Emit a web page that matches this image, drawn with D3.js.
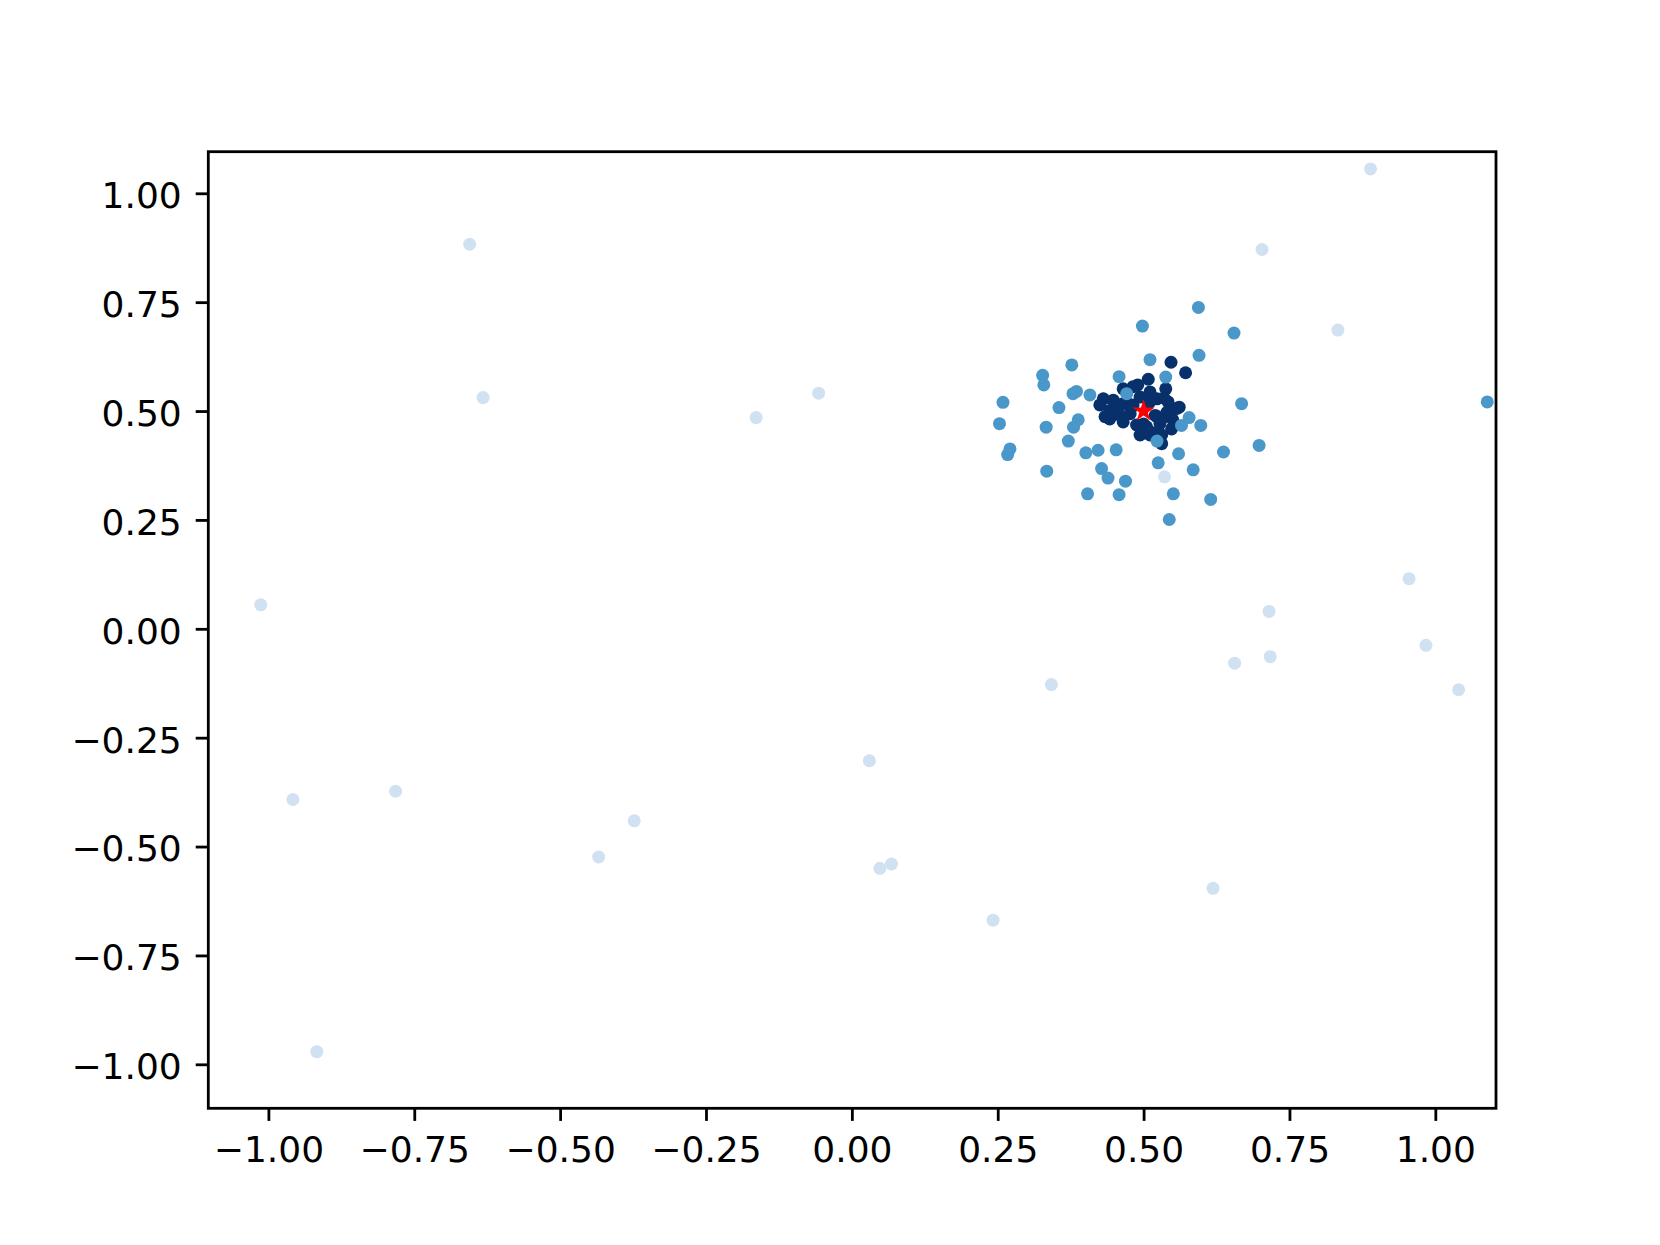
<!DOCTYPE html>
<html>
<head>
<meta charset="utf-8">
<script src="https://cdn.jsdelivr.net/npm/d3@7"></script>
<style>
  html, body { margin: 0; padding: 0; background: #fff; }
  svg { display: block; }
  .tick text { font-family: "DejaVu Sans", sans-serif; font-size: 36px; fill: #000; }
</style>
</head>
<body>
<svg id="chart" width="1660" height="1245"></svg>
<script>
// far-away points (lightest shade)
const farPoints = [
  [-0.655, 0.883], [-0.632, 0.531], [-1.013, 0.055], [-0.958, -0.392],
  [-0.782, -0.373], [-0.917, -0.971], [-0.434, -0.524], [-0.373, -0.441],
  [-0.164, 0.485], [-0.057, 0.541], [0.030, -0.303], [0.048, -0.550],
  [0.068, -0.540], [0.242, -0.669], [0.342, -0.128], [0.536, 0.349],
  [0.619, -0.596], [0.656, -0.079], [0.715, 0.040], [0.717, -0.064],
  [0.703, 0.871], [0.889, 1.056], [0.833, 0.686], [0.955, 0.115],
  [0.984, -0.038], [1.040, -0.140]
];

// dense core round the centre (darkest shade)
const corePoints = [
  [0.547, 0.612], [0.572, 0.588], [0.508, 0.573], [0.538, 0.551],
  [0.431, 0.528], [0.465, 0.551], [0.442, 0.501], [0.460, 0.490],
  [0.442, 0.482], [0.477, 0.494], [0.523, 0.528], [0.540, 0.497],
  [0.561, 0.509], [0.528, 0.471], [0.548, 0.459], [0.497, 0.452],
  [0.508, 0.455], [0.531, 0.425], [0.494, 0.532], [0.471, 0.520],
  [0.480, 0.510], [0.520, 0.490], [0.510, 0.520], [0.500, 0.470],
  [0.530, 0.480], [0.455, 0.510], [0.520, 0.450], [0.550, 0.480],
  [0.490, 0.560], [0.535, 0.530], [0.448, 0.525], [0.465, 0.517],
  [0.482, 0.514], [0.482, 0.556], [0.465, 0.475], [0.488, 0.468],
  [0.505, 0.464], [0.542, 0.521], [0.557, 0.506], [0.494, 0.445],
  [0.511, 0.445], [0.531, 0.445], [0.425, 0.514], [0.434, 0.487],
  [0.523, 0.487], [0.511, 0.544]
];

// ring of nearby points (middle shade)
const nearPoints = [
  [0.594, 0.738], [0.498, 0.695], [0.655, 0.679], [0.595, 0.628],
  [0.511, 0.618], [0.377, 0.606], [0.327, 0.582], [0.329, 0.560],
  [0.458, 0.579], [0.538, 0.578], [0.385, 0.545], [0.379, 0.540],
  [0.408, 0.537], [0.471, 0.540], [0.259, 0.520], [0.668, 0.517],
  [0.355, 0.508], [0.253, 0.471], [0.333, 0.463], [0.388, 0.480],
  [0.380, 0.463], [0.578, 0.485], [0.565, 0.467], [0.598, 0.467],
  [0.271, 0.413], [0.267, 0.400], [0.371, 0.431], [0.401, 0.404],
  [0.422, 0.410], [0.453, 0.411], [0.523, 0.431], [0.560, 0.402],
  [0.637, 0.406], [0.698, 0.421], [0.334, 0.362], [0.525, 0.381],
  [0.585, 0.365], [0.428, 0.368], [0.439, 0.346], [0.469, 0.339],
  [0.404, 0.310], [0.458, 0.308], [0.551, 0.310], [0.615, 0.297],
  [0.544, 0.251], [1.089, 0.521]
];

const centre = [0.5, 0.5];

const xTicks = [-1, -0.75, -0.5, -0.25, 0, 0.25, 0.5, 0.75, 1];
const yTicks = [-1, -0.75, -0.5, -0.25, 0, 0.25, 0.5, 0.75, 1];

const width = 1660;
const height = 1245;
const margin = { top: 151.7, right: 164, bottom: 136.7, left: 208.3 };

const svg = d3.select("#chart");

const x = d3.scaleLinear()
  .domain([-1.103, 1.104])
  .range([margin.left, width - margin.right]);
const y = d3.scaleLinear()
  .domain([-1.101, 1.0955])
  .range([height - margin.bottom, margin.top]);

const shade = d3.scaleOrdinal()
  .domain(["far", "near", "core"])
  .range(["#d0e1f2", "#4a98c9", "#08306b"]);

svg.append("defs")
  .append("clipPath")
  .attr("id", "plot-clip")
  .append("rect")
  .attr("x", margin.left)
  .attr("y", margin.top)
  .attr("width", width - margin.left - margin.right)
  .attr("height", height - margin.top - margin.bottom);

const plot = svg.append("g").attr("clip-path", "url(#plot-clip)");

const groups = [
  { key: "far", pts: farPoints },
  { key: "core", pts: corePoints },
  { key: "near", pts: nearPoints },
];

groups.forEach((g) => {
  plot.append("g")
    .selectAll("circle")
    .data(g.pts)
    .join("circle")
    .attr("cx", (d) => x(d[0]))
    .attr("cy", (d) => y(d[1]))
    .attr("r", 6.5)
    .attr("fill", shade(g.key));
});

plot.append("path")
  .attr("d", d3.symbol().type(d3.symbolStar).size(155)())
  .attr("transform", `translate(${x(centre[0])},${y(centre[1])})`)
  .attr("fill", "#ff0000");

// axes
const fmt = d3.format(".2f");
const tickLen = 12.6;

const xAxis = svg.append("g")
  .attr("transform", `translate(0,${height - margin.bottom})`)
  .call(d3.axisBottom(x).tickValues(xTicks).tickFormat(fmt)
    .tickSize(tickLen).tickPadding(12.6));
xAxis.select(".domain").remove();
xAxis.selectAll(".tick line").attr("stroke", "#000").attr("stroke-width", 2.8);
xAxis.selectAll(".tick text").attr("dy", "0.79em");

const yAxis = svg.append("g")
  .attr("transform", `translate(${margin.left},0)`)
  .call(d3.axisLeft(y).tickValues(yTicks).tickFormat(fmt)
    .tickSize(tickLen).tickPadding(14));
yAxis.select(".domain").remove();
yAxis.selectAll(".tick line").attr("stroke", "#000").attr("stroke-width", 2.8);
yAxis.selectAll(".tick text").attr("dy", "0.4em");

// frame (spines)
svg.append("rect")
  .attr("x", margin.left)
  .attr("y", margin.top)
  .attr("width", width - margin.left - margin.right)
  .attr("height", height - margin.top - margin.bottom)
  .attr("fill", "none")
  .attr("stroke", "#000")
  .attr("stroke-width", 2.8);
</script>
</body>
</html>
